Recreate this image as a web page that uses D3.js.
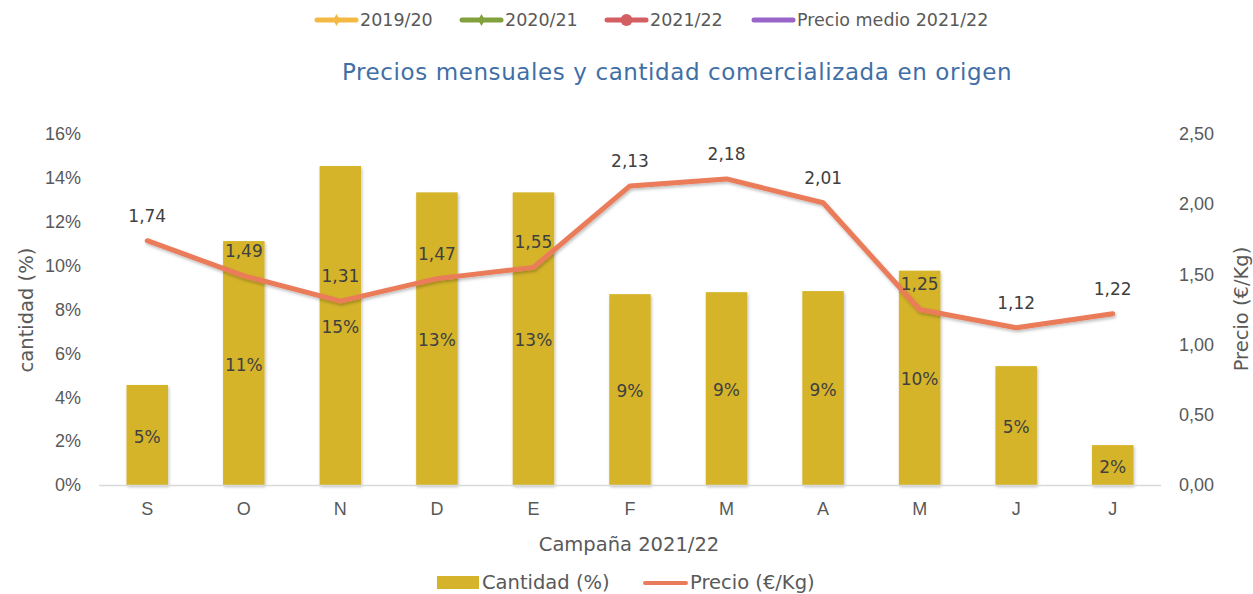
<!DOCTYPE html>
<html>
<head>
<meta charset="utf-8">
<script src="https://cdn.jsdelivr.net/npm/d3@7"></script>
<style>
  html, body { margin: 0; padding: 0; background: #fff; }
  svg { display: block; font-family: "Century Gothic", "DejaVu Sans", sans-serif; }
</style>
</head>
<body>
<svg id="chart" width="1253" height="594"></svg>
<script>
/* ── Data ─────────────────────────────────────────────── */
const months    = ['S', 'O', 'N', 'D', 'E', 'F', 'M', 'A', 'M', 'J', 'J'];
const cantidad  = [4.56, 11.12, 14.54, 13.34, 13.34, 8.70, 8.79, 8.84, 9.77, 5.42, 1.82];
const precio    = [1.74, 1.49, 1.31, 1.47, 1.55, 2.13, 2.18, 2.01, 1.25, 1.12, 1.22];
const leftTicks  = [0, 2, 4, 6, 8, 10, 12, 14, 16];
const rightTicks = [0, 0.5, 1, 1.5, 2, 2.5];
const topLegend = [
  { name: '2019/20', color: '#f4b942', marker: 'diamond' },
  { name: '2020/21', color: '#82a03c', marker: 'diamond' },
  { name: '2021/22', color: '#d35f63', marker: 'circle' },
  { name: 'Precio medio 2021/22', color: '#9a65c9', marker: null }
];

const BAR_COLOR   = '#d5b42c';
const LINE_COLOR  = '#ea7b5a';
const TICK_COLOR  = '#595959';
const LABEL_COLOR = '#404040';

const svg = d3.select('#chart');

/* ── Scales ───────────────────────────────────────────── */
// band domain uses indexes because month letters repeat (M, J)
const x = d3.scaleBand()
  .domain(months.map((_, i) => i))
  .range([99, 1161])
  .paddingInner(0.57)
  .paddingOuter(0.285);

const yL = d3.scaleLinear().domain([0, 16]).range([485, 134]);
const yR = d3.scaleLinear().domain([0, 2.5]).range([485, 134]);

const fmtPrice = d => d3.format('.2f')(d).replace('.', ',');

/* ── Shadow filter ────────────────────────────────────── */
const defs = svg.append('defs');
const f = defs.append('filter').attr('id', 'shadow')
  .attr('x', '-20%').attr('y', '-20%').attr('width', '140%').attr('height', '140%');
f.append('feDropShadow')
  .attr('dx', 1).attr('dy', 2).attr('stdDeviation', 1.5)
  .attr('flood-color', '#000').attr('flood-opacity', 0.25);

/* ── Top legend ───────────────────────────────────────── */
const topPos = [315, 460, 605, 752];
const tl = svg.append('g');
topLegend.forEach((d, i) => {
  const g = tl.append('g').attr('transform', `translate(${topPos[i]},20)`);
  g.append('line').attr('x1', 2).attr('x2', 41).attr('y1', 0).attr('y2', 0)
    .attr('stroke', d.color).attr('stroke-width', 5).attr('stroke-linecap', 'round');
  if (d.marker === 'diamond') {
    g.append('path').attr('d', d3.symbol(d3.symbolDiamond, 40)())
      .attr('transform', 'translate(21.5,0)').attr('fill', d.color);
  } else if (d.marker === 'circle') {
    g.append('circle').attr('cx', 21.5).attr('r', 6).attr('fill', d.color);
  }
  g.append('text').attr('x', 45).attr('y', 0).attr('dy', '0.35em')
    .attr('fill', TICK_COLOR).attr('font-size', 17.5).text(d.name);
});

/* ── Title ────────────────────────────────────────────── */
svg.append('text')
  .attr('x', 677).attr('y', 80)
  .attr('text-anchor', 'middle')
  .attr('fill', '#3f6fa6').attr('font-size', 23).attr('letter-spacing', 0.6)
  .text('Precios mensuales y cantidad comercializada en origen');

/* ── Axes ─────────────────────────────────────────────── */
const leftAxis = svg.append('g').attr('transform', 'translate(81,0)')
  .call(d3.axisLeft(yL).tickValues(leftTicks).tickSize(0).tickPadding(0)
    .tickFormat(d => d + '%'));
const rightAxis = svg.append('g').attr('transform', 'translate(1179,0)')
  .call(d3.axisRight(yR).tickValues(rightTicks).tickSize(0).tickPadding(0)
    .tickFormat(fmtPrice));
const bottomAxis = svg.append('g').attr('transform', 'translate(0,485)')
  .call(d3.axisBottom(x).tickSize(0).tickPadding(17).tickFormat(i => months[i]));

[leftAxis, rightAxis, bottomAxis].forEach(a => {
  a.select('.domain').remove();
  a.selectAll('text').attr('fill', TICK_COLOR).attr('font-size', 18)
    .attr('font-family', null);
});

/* ── Bars ─────────────────────────────────────────────── */
svg.append('g').selectAll('rect')
  .data(cantidad)
  .join('rect')
  .attr('x', (d, i) => x(i))
  .attr('y', d => yL(d))
  .attr('width', x.bandwidth())
  .attr('height', d => yL(0) - yL(d))
  .attr('fill', BAR_COLOR)
  .attr('filter', 'url(#shadow)');

// baseline
svg.append('line')
  .attr('x1', 99).attr('x2', 1161).attr('y1', 485.5).attr('y2', 485.5)
  .attr('stroke', '#d9d9d9').attr('stroke-width', 1.5);

/* ── Price line ───────────────────────────────────────── */
const line = d3.line()
  .x((d, i) => x(i) + x.bandwidth() / 2)
  .y(d => yR(d));

svg.append('path')
  .datum(precio)
  .attr('d', line)
  .attr('fill', 'none')
  .attr('stroke', LINE_COLOR)
  .attr('stroke-width', 5)
  .attr('stroke-linejoin', 'round')
  .attr('stroke-linecap', 'round')
  .attr('filter', 'url(#shadow)');

/* ── Data labels ──────────────────────────────────────── */
svg.append('g').selectAll('text')
  .data(cantidad)
  .join('text')
  .attr('x', (d, i) => x(i) + x.bandwidth() / 2)
  .attr('y', d => (yL(d) + yL(0)) / 2)
  .attr('dy', '0.45em')
  .attr('text-anchor', 'middle')
  .attr('fill', LABEL_COLOR).attr('font-size', 17)
  .text(d => Math.round(d) + '%');

svg.append('g').selectAll('text')
  .data(precio)
  .join('text')
  .attr('x', (d, i) => x(i) + x.bandwidth() / 2)
  .attr('y', d => yR(d) - 25)
  .attr('dy', '0.35em')
  .attr('text-anchor', 'middle')
  .attr('fill', LABEL_COLOR).attr('font-size', 17)
  .text(fmtPrice);

/* ── Axis titles ──────────────────────────────────────── */
svg.append('text')
  .attr('transform', 'translate(26,310) rotate(-90)')
  .attr('text-anchor', 'middle').attr('dy', '0.35em')
  .attr('fill', TICK_COLOR).attr('font-size', 19.5)
  .text('cantidad (%)');

svg.append('text')
  .attr('transform', 'translate(1241,309) rotate(-90)')
  .attr('text-anchor', 'middle').attr('dy', '0.35em')
  .attr('fill', TICK_COLOR).attr('font-size', 19.5)
  .text('Precio (€/Kg)');

svg.append('text')
  .attr('x', 629).attr('y', 544).attr('dy', '0.35em')
  .attr('text-anchor', 'middle')
  .attr('fill', TICK_COLOR).attr('font-size', 19.5)
  .text('Campaña 2021/22');

/* ── Bottom legend ────────────────────────────────────── */
const bl = svg.append('g');
bl.append('rect').attr('x', 437).attr('y', 576).attr('width', 42).attr('height', 13)
  .attr('fill', BAR_COLOR);
bl.append('text').attr('x', 482).attr('y', 582).attr('dy', '0.35em')
  .attr('fill', TICK_COLOR).attr('font-size', 19.5).text('Cantidad (%)');
bl.append('line').attr('x1', 645).attr('x2', 686).attr('y1', 583).attr('y2', 583)
  .attr('stroke', LINE_COLOR).attr('stroke-width', 4).attr('stroke-linecap', 'round');
bl.append('text').attr('x', 690).attr('y', 582).attr('dy', '0.35em')
  .attr('fill', TICK_COLOR).attr('font-size', 19.5).text('Precio (€/Kg)');
</script>
</body>
</html>
